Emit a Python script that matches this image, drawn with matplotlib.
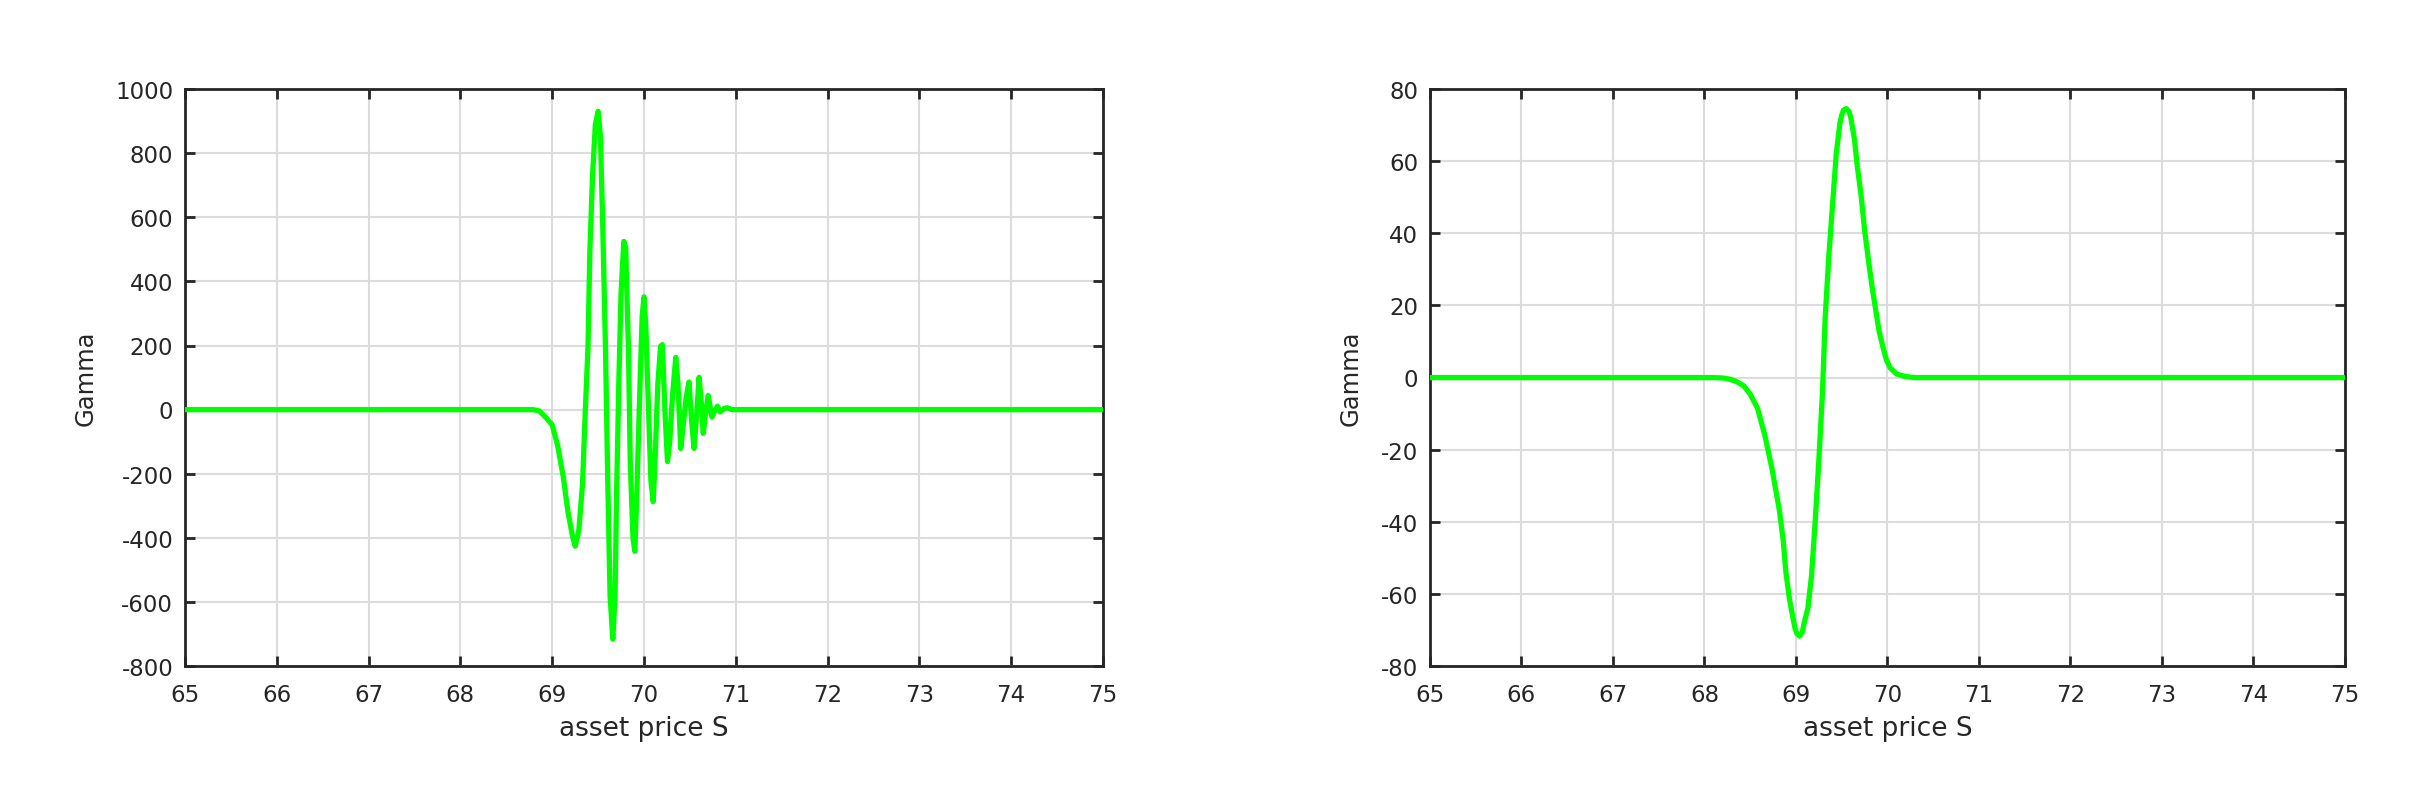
import numpy as np
import matplotlib.pyplot as plt

# gamma vs asset price, left panel (oscillating scheme)
s_left = [65.0, 68.79, 68.86, 68.93, 69.0, 69.06, 69.12, 69.17, 69.22, 69.25,
          69.29, 69.33, 69.36, 69.39, 69.41, 69.44, 69.47, 69.50, 69.525, 69.55,
          69.58, 69.605, 69.63, 69.66, 69.685, 69.70, 69.725, 69.75, 69.78, 69.80,
          69.83, 69.85, 69.88, 69.90, 69.92, 69.95, 69.98, 70.0, 70.02, 70.05,
          70.075, 70.10, 70.12, 70.15, 70.18, 70.20, 70.23, 70.256, 70.28, 70.31,
          70.346, 70.37, 70.40, 70.43, 70.46, 70.49, 70.52, 70.545, 70.575, 70.60,
          70.625, 70.645, 70.67, 70.70, 70.72, 70.74, 70.77, 70.80, 70.83, 70.87,
          70.905, 70.96, 75.0]
gamma_left = [0, 0, -4, -24, -48, -113, -209, -316, -394, -426,
              -376, -233, -6, 197, 496, 734, 890, 931, 854, 579,
              197, -221, -579, -716, -579, -280, 78, 364, 525, 507,
              197, -161, -400, -442, -280, 18, 293, 352, 257, -6,
              -221, -287, -161, 78, 197, 203, -18, -162, -100, 42,
              163, 80, -121, -40, 40, 86, -40, -121, -10, 101,
              20, -74, -15, 44, 10, -23, -5, 11, -7, 3,
              6, 0, 0]

# right panel (smooth scheme)
s_right = [65.0, 68.10, 68.20, 68.27, 68.35, 68.43, 68.50, 68.58, 68.66, 68.74,
           68.82, 68.86, 68.89, 68.93, 68.97, 68.99, 69.01, 69.04, 69.07, 69.09,
           69.13, 69.17, 69.21, 69.25, 69.29, 69.32, 69.36, 69.40, 69.44, 69.48,
           69.50, 69.52, 69.55, 69.58, 69.60, 69.64, 69.67, 69.71, 69.75, 69.79,
           69.83, 69.87, 69.91, 69.95, 69.99, 70.03, 70.10, 70.18, 70.28, 75.0]
gamma_right = [0, 0, -0.1, -0.4, -1.1, -2.3, -4.6, -8.5, -16, -25.5,
               -37, -45, -54, -61.6, -67, -69.6, -71, -71.7, -70.5, -68,
               -64, -55, -40, -23, -4, 17, 34, 48, 62, 70.5,
               72.8, 74.2, 74.6, 73.8, 72, 66, 58.6, 51, 41, 33,
               25.5, 19, 12.7, 8.5, 4.8, 2.7, 1, 0.4, 0, 0]

x_ticks = np.arange(65, 76, 1)
y_ticks_left = np.arange(-800, 1001, 200)
y_ticks_right = np.arange(-80, 81, 20)

plt.rcParams['font.family'] = ['DejaVu Sans']
plt.rcParams['axes.unicode_minus'] = False
dark = '#262626'

fig = plt.figure(figsize=(24.22, 7.928), dpi=100)
ax1 = fig.add_axes([0.0764, 0.1589, 0.3790, 0.7276])
ax2 = fig.add_axes([0.5904, 0.1589, 0.3778, 0.7276])

panels = [(ax1, s_left, gamma_left, y_ticks_left, -0.095),
          (ax2, s_right, gamma_right, y_ticks_right, -0.074)]

for ax, s, g, yt, lx in panels:
    ax.plot(s, g, color='#00ff00', linewidth=3.8, zorder=3)
    ax.set_xlim(65, 75)
    ax.set_ylim(yt[0], yt[-1])
    ax.set_xticks(x_ticks)
    ax.set_yticks(yt)
    ax.grid(True, color='#dcdcdc', linewidth=1.5)
    ax.set_axisbelow(True)
    for sp in ax.spines.values():
        sp.set_color(dark)
        sp.set_linewidth(2)
    ax.tick_params(direction='in', length=7.5, width=2, color=dark,
                   labelcolor=dark, labelsize=16.5, top=True, right=True)
    ax.tick_params(axis='x', pad=12.5)
    ax.tick_params(axis='y', pad=8.5)
    ax.set_xlabel('asset price S', fontsize=19, color=dark)
    ax.set_ylabel('Gamma', fontsize=17.5, color=dark)
    ax.xaxis.set_label_coords(0.5, -0.086)
    ax.yaxis.set_label_coords(lx, 0.5)

plt.savefig('out.png', dpi=100)
